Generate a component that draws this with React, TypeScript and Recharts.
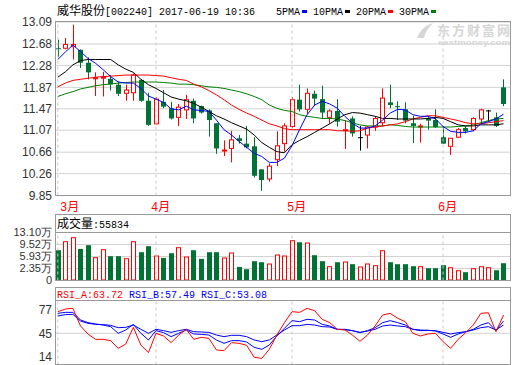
import React from 'react';
import { ComposedChart, Bar, Line, XAxis, YAxis, CartesianGrid, ReferenceLine } from 'recharts';

const monthTicks = [0, 13, 31, 51];
const monthLabels = ['3月', '4月', '5月', '6月'];

const opens = [12.60, 12.60, 12.63, 12.57, 12.33, 12.03, 12.05, 12.03, 11.92, 11.76, 11.77, 12.01, 11.62, 11.19, 11.60, 11.48, 11.31, 11.45, 11.62, 11.52, 11.44, 11.20, 10.69, 10.73, 10.92, 10.82, 10.77, 10.34, 10.16, 10.52, 10.82, 11.14, 11.64, 11.46, 11.75, 11.65, 11.31, 11.43, 11.07, 11.29, 10.94, 10.98, 11.13, 11.21, 11.59, 11.52, 11.46, 11.20, 11.14, 11.29, 11.26, 10.94, 10.77, 10.94, 11.11, 11.08, 11.28, 11.44, 11.31, 11.87];
const highs = [12.76, 12.79, 13.04, 12.58, 12.43, 12.15, 12.16, 12.10, 11.98, 11.92, 12.13, 12.02, 11.77, 11.69, 11.82, 11.60, 11.56, 11.73, 11.66, 11.53, 11.46, 11.20, 10.88, 11.06, 10.98, 11.15, 10.94, 10.34, 10.45, 11.05, 11.20, 11.69, 11.92, 11.85, 11.81, 11.90, 11.46, 11.65, 11.26, 11.33, 11.15, 11.15, 11.33, 11.85, 11.92, 11.61, 11.59, 11.34, 11.19, 11.33, 11.46, 11.15, 10.92, 11.11, 11.15, 11.31, 11.47, 11.45, 11.40, 12.02];
const lows = [12.44, 12.58, 12.39, 12.23, 12.02, 11.71, 11.70, 11.81, 11.71, 11.62, 11.62, 11.60, 11.15, 11.18, 11.48, 11.27, 11.15, 11.28, 11.20, 11.38, 10.95, 10.63, 10.59, 10.47, 10.82, 10.73, 10.19, 9.94, 10.11, 10.40, 10.67, 11.11, 11.42, 11.37, 11.52, 11.28, 11.19, 11.14, 10.72, 10.95, 10.69, 10.73, 11.06, 11.14, 11.48, 11.26, 11.20, 10.83, 10.84, 11.08, 11.11, 10.82, 10.61, 10.92, 11.01, 11.05, 11.20, 11.23, 11.13, 11.52];
const closes = [12.58, 12.67, 12.67, 12.33, 12.15, 12.05, 12.06, 11.93, 11.75, 11.82, 12.10, 11.62, 11.17, 11.65, 11.51, 11.29, 11.50, 11.64, 11.29, 11.40, 11.26, 10.73, 10.70, 10.89, 10.87, 10.75, 10.22, 10.14, 10.40, 10.78, 11.15, 11.64, 11.46, 11.76, 11.66, 11.40, 11.43, 11.23, 11.08, 11.01, 10.94, 11.13, 11.29, 11.67, 11.54, 11.50, 11.25, 11.15, 11.15, 11.25, 11.13, 10.82, 10.92, 11.08, 11.05, 11.29, 11.45, 11.44, 11.15, 11.56];

// volume in 万
const volumes = [7.81, 10.5, 11.7, 8.2, 9.31, 5.73, 8.11, 6.02, 6.02, 5.43, 10.5, 7.22, 9.01, 6.23, 5.52, 6.92, 8.71, 5.93, 7.81, 5.22, 7.22, 7.22, 5.64, 7.13, 2.83, 2.14, 4.53, 4.23, 3.84, 6.53, 6.23, 10.8, 10.2, 10.11, 6.32, 4.53, 3.04, 4.23, 4.44, 3.64, 2.95, 3.84, 3.34, 7.81, 4.23, 3.64, 3.64, 3.04, 3.04, 2.44, 2.44, 3.34, 2.74, 1.84, 1.25, 2.44, 3.04, 2.74, 1.84, 3.93];

const ma5 = [12.39, 12.53, 12.66, 12.54, 12.41, 12.32, 12.20, 12.07, 11.97, 11.95, 11.95, 11.85, 11.71, 11.65, 11.59, 11.47, 11.45, 11.52, 11.45, 11.44, 11.42, 11.26, 11.08, 10.98, 10.86, 10.75, 10.64, 10.58, 10.47, 10.47, 10.55, 10.78, 11.08, 11.36, 11.54, 11.61, 11.56, 11.48, 11.33, 11.20, 11.11, 11.11, 11.15, 11.26, 11.39, 11.46, 11.45, 11.36, 11.33, 11.33, 11.28, 11.14, 11.05, 11.03, 11.03, 11.06, 11.19, 11.23, 11.28, 11.37];
const ma10 = [12.06, 12.16, 12.29, 12.37, 12.39, 12.39, 12.39, 12.39, 12.29, 12.21, 12.15, 12.02, 11.92, 11.85, 11.77, 11.69, 11.65, 11.62, 11.57, 11.50, 11.42, 11.34, 11.28, 11.21, 11.15, 11.09, 10.98, 10.84, 10.75, 10.67, 10.65, 10.80, 10.88, 10.95, 11.03, 11.11, 11.19, 11.28, 11.36, 11.40, 11.39, 11.36, 11.33, 11.29, 11.29, 11.28, 11.28, 11.28, 11.28, 11.29, 11.31, 11.29, 11.23, 11.17, 11.15, 11.15, 11.17, 11.17, 11.17, 11.19];
const ma20 = [11.88, 11.95, 12.00, 12.02, 12.04, 12.06, 12.07, 12.08, 12.09, 12.10, 12.10, 12.10, 12.10, 12.09, 12.08, 12.05, 12.02, 12.00, 11.93, 11.88, 11.81, 11.73, 11.64, 11.54, 11.46, 11.39, 11.33, 11.26, 11.19, 11.15, 11.10, 11.08, 11.08, 11.08, 11.08, 11.08, 11.08, 11.06, 11.06, 11.05, 11.06, 11.11, 11.13, 11.15, 11.17, 11.19, 11.23, 11.28, 11.31, 11.34, 11.34, 11.31, 11.28, 11.25, 11.21, 11.19, 11.19, 11.21, 11.23, 11.25];
const ma30 = [11.70, 11.75, 11.79, 11.84, 11.87, 11.90, 11.92, 11.93, 11.95, 11.96, 11.97, 11.97, 11.97, 11.97, 11.96, 11.95, 11.93, 11.93, 11.92, 11.90, 11.88, 11.87, 11.85, 11.82, 11.79, 11.75, 11.70, 11.64, 11.54, 11.48, 11.44, 11.42, 11.36, 11.33, 11.31, 11.29, 11.29, 11.28, 11.25, 11.21, 11.17, 11.15, 11.15, 11.15, 11.17, 11.16, 11.14, 11.13, 11.13, 11.13, 11.13, 11.13, 11.13, 11.14, 11.15, 11.17, 11.21, 11.25, 11.28, 11.29];

const rsiA = [74.2, 77.8, 78.7, 55.0, 44.0, 36.9, 36.9, 35.1, 24.7, 30.6, 53.1, 29.2, 18.9, 45.0, 41.4, 32.4, 42.7, 50.4, 36.9, 39.6, 38.2, 22.5, 21.6, 32.4, 31.5, 28.8, 12.6, 11.2, 23.4, 42.7, 59.4, 74.2, 73.3, 78.7, 75.5, 63.9, 59.4, 50.4, 49.5, 42.7, 34.2, 42.7, 54.9, 69.7, 71.9, 65.2, 60.7, 45.0, 41.4, 44.1, 45.0, 33.7, 24.7, 36.9, 45.9, 56.2, 71.9, 72.8, 47.2, 69.7];
const rsiB = [71.9, 73.3, 73.3, 63.0, 59.4, 57.6, 56.2, 54.0, 45.0, 49.5, 57.1, 45.0, 36.0, 48.6, 45.9, 40.5, 45.0, 49.5, 44.1, 43.6, 42.7, 36.0, 31.5, 35.1, 35.1, 33.3, 26.1, 23.4, 29.2, 41.4, 51.7, 62.1, 60.7, 63.9, 63.0, 57.1, 54.9, 50.4, 49.9, 48.6, 45.9, 48.6, 52.6, 59.4, 62.1, 59.4, 56.2, 50.4, 48.6, 49.0, 48.1, 44.1, 39.6, 44.1, 47.2, 50.4, 56.2, 59.4, 48.6, 61.6];
const rsiC = [68.4, 70.2, 70.6, 61.6, 58.5, 57.1, 56.7, 55.8, 52.6, 53.1, 56.2, 50.4, 45.0, 50.4, 48.6, 46.3, 48.6, 50.4, 47.2, 46.8, 46.3, 42.7, 40.5, 42.3, 42.3, 40.5, 36.0, 33.7, 36.0, 42.7, 49.5, 55.3, 55.3, 57.1, 56.2, 54.0, 53.5, 50.4, 50.4, 48.6, 46.3, 48.1, 50.4, 54.9, 56.2, 54.9, 54.0, 50.4, 49.5, 49.0, 48.6, 46.3, 44.1, 45.9, 47.2, 49.5, 52.6, 54.0, 49.5, 56.2];

const priceTicks = [9.85, 10.26, 10.66, 11.07, 11.47, 11.87, 12.28, 12.68, 13.09];
const volTicks = [-1.23, 2.35, 5.93, 9.52, 13.10];
const rsiTicks = [14, 45, 77];

const RED = '#ff0000';
const GREEN = '#007234';
const BLUE = '#0000ff';
const MAGREEN = '#008000';
const GRID = '#d2d2d2';
const FRAME = '#999999';
const XDOM: [number, number] = [-0.238, 59.86];

const data = opens.map((o, i) => ({
  i,
  open: o,
  high: highs[i],
  low: lows[i],
  close: closes[i],
  vol: volumes[i],
  ma5: ma5[i],
  ma10: ma10[i],
  ma20: ma20[i],
  ma30: ma30[i],
  rsiA: rsiA[i],
  rsiB: rsiB[i],
  rsiC: rsiC[i],
}));

const Candle = (props: any) => {
  const { x, y, width, height, payload } = props;
  if (!payload) return null;
  const top = Math.min(y, y + height);
  const bot = Math.max(y, y + height);
  const { open, close, high, low } = payload;
  const pix = (v: number) => top + ((high - v) / (high - low)) * (bot - top);
  const c = Math.round(x + width / 2);
  const color = close > open ? RED : close < open ? GREEN : '#000';
  const bt = pix(Math.max(open, close));
  const bb = pix(Math.min(open, close));
  if (close > open) {
    return (
      <g>
        <line x1={c + 0.5} x2={c + 0.5} y1={top} y2={bt} stroke={color} />
        <line x1={c + 0.5} x2={c + 0.5} y1={bb} y2={bot} stroke={color} />
        <rect x={c - 1.5} y={bt} width={4} height={Math.max(bb - bt, 1)} fill="#fff" stroke={color} />
      </g>
    );
  }
  return (
    <g>
      <line x1={c + 0.5} x2={c + 0.5} y1={top} y2={bot} stroke={color} />
      <rect x={c - 2} y={bt} width={5} height={Math.max(bb - bt, 1)} fill={color} />
    </g>
  );
};

const VolBar = (props: any) => {
  const { x, y, width, height, payload } = props;
  if (!payload) return null;
  const top = Math.min(y, y + height);
  const bot = Math.max(y, y + height);
  const c = Math.round(x + width / 2);
  if (payload.close >= payload.open) {
    return <rect x={c - 1.5} y={top + 0.5} width={4} height={bot - top - 1} fill="#fff" stroke={RED} />;
  }
  return <rect x={c - 2} y={top} width={5} height={bot - top} fill={GREEN} />;
};

const MonthTick = (props: any) => {
  const { x, payload } = props;
  const idx = monthTicks.indexOf(payload.value);
  return (
    <text x={Math.max(x - 5, 60)} y={211} fill={RED} fontSize={12} fontFamily="'Liberation Mono', 'Noto Sans CJK SC', monospace">
      {monthLabels[idx]}
    </text>
  );
};

const tickStyle = { fontSize: 12, fill: '#333', fontFamily: "'Liberation Sans', Arial, sans-serif" };
const volTickStyle = { fontSize: 11, fill: '#333', fontFamily: "'Liberation Sans', Arial, sans-serif" };

const monthLines = monthTicks.map((t) => (
  <ReferenceLine key={'m' + t} x={t} stroke="#c8c8c8" strokeDasharray="3 3" />
));

const mono = "'Liberation Mono', 'DejaVu Sans Mono', monospace";
const cjk = "'Noto Sans CJK SC', sans-serif";

export default function App() {
  return (
    <div style={{ position: 'absolute', left: 0, top: 0, width: 520, height: 365, background: '#fff', overflow: 'hidden' }}>
      <div style={{ position: 'absolute', left: 0, top: 0 }}>
        <ComposedChart width={520} height={365} data={data} margin={{ top: 22, right: 10, left: 0, bottom: 155.4 }}>
          <CartesianGrid vertical={false} stroke={GRID} />
          <XAxis type="number" dataKey="i" domain={XDOM} allowDataOverflow ticks={monthTicks} interval={0}
            tick={<MonthTick />} axisLine={false} tickLine={false} height={14} />
          <YAxis domain={[9.85, 13.09]} allowDataOverflow ticks={priceTicks} interval={0} width={56}
            tick={tickStyle} tickFormatter={(v: number) => v.toFixed(2)} axisLine={false} tickLine={false} tickSize={0} tickMargin={4} />
          {monthLines}
          <Bar dataKey={(d: any) => [d.low, d.high]} barSize={5} shape={<Candle />} isAnimationActive={false} />
          <Line dataKey="ma30" stroke={MAGREEN} dot={false} strokeWidth={1} isAnimationActive={false} />
          <Line dataKey="ma20" stroke={RED} dot={false} strokeWidth={1} isAnimationActive={false} />
          <Line dataKey="ma10" stroke="#000" dot={false} strokeWidth={1} isAnimationActive={false} />
          <Line dataKey="ma5" stroke={BLUE} dot={false} strokeWidth={1} isAnimationActive={false} />
        </ComposedChart>
      </div>
      <div style={{ position: 'absolute', left: 0, top: 0 }}>
        <ComposedChart width={520} height={365} data={data} margin={{ top: 232.5, right: 10, left: 0, bottom: 84.5 }}>
          <CartesianGrid vertical={false} stroke={GRID} />
          <XAxis type="number" dataKey="i" domain={XDOM} allowDataOverflow hide />
          <YAxis domain={[volTicks[0], 13.10]} allowDataOverflow ticks={volTicks} interval={0} width={56}
            tick={volTickStyle} tickFormatter={(v: number) => (v < 0 ? '0' : v.toFixed(2) + '万')}
            axisLine={false} tickLine={false} tickSize={0} tickMargin={4} />
          {monthLines}
          <Bar dataKey={(d: any) => [volTicks[0], d.vol]} barSize={5} shape={<VolBar />} isAnimationActive={false} />
        </ComposedChart>
      </div>
      <div style={{ position: 'absolute', left: 0, top: 0 }}>
        <ComposedChart width={520} height={365} data={data} margin={{ top: 300.5, right: 10, left: 0, bottom: 0.5 }}>
          <XAxis type="number" dataKey="i" domain={XDOM} allowDataOverflow hide />
          <YAxis domain={[2.9, 89.3]} allowDataOverflow ticks={rsiTicks} interval={0} width={56}
            tick={tickStyle} axisLine={false} tickLine={false} tickSize={0} tickMargin={4} />
          {monthLines}
          <ReferenceLine y={45} stroke={GRID} />
          <Line dataKey="rsiC" stroke={BLUE} dot={false} strokeWidth={1} isAnimationActive={false} />
          <Line dataKey="rsiB" stroke={BLUE} dot={false} strokeWidth={1} isAnimationActive={false} />
          <Line dataKey="rsiA" stroke={RED} dot={false} strokeWidth={1} isAnimationActive={false} />
        </ComposedChart>
      </div>
      <svg width={520} height={365} style={{ position: 'absolute', left: 0, top: 0, pointerEvents: 'none' }}>
        {/* watermark */}
        <text x={437} y={34.5} fontSize={13} fontWeight="bold" fill="#d6d6d6" fontFamily={cjk} textLength={73}>东方财富网</text>
        <text x={438} y={45} fontSize={8} fontWeight="bold" fill="#d6d6d6" fontFamily="'Liberation Sans', sans-serif" textLength={72} lengthAdjust="spacingAndGlyphs">eastmoney.com</text>
        <path d="M417,38 C420,30 426,25 433,23 C428,28 425,33 424,38 Z" fill="#d6d6d6" />
        {/* frames */}
        <rect x={55.5} y={21.5} width={455} height={174} fill="none" stroke={FRAME} />
        <rect x={55.5} y={214.5} width={455} height={66} fill="none" stroke={FRAME} />
        <line x1={55.5} x2={510.5} y1={232.5} y2={232.5} stroke={FRAME} />
        <rect x={55.5} y={287.5} width={455} height={77} fill="none" stroke={FRAME} />
        <line x1={55.5} x2={510.5} y1={300.5} y2={300.5} stroke={FRAME} />
        {/* title */}
        <text x={57} y={14.5} fontSize={12} fill="#000" fontFamily={cjk}>威华股份</text>
        <text x={105} y={14.5} fontSize={11.5} fill="#000" fontFamily={mono} textLength={150} lengthAdjust="spacingAndGlyphs">[002240] 2017-06-19 10:36</text>
        {/* legend */}
        <text x={276} y={14.5} fontSize={11.5} fill="#000" fontFamily={mono} textLength={24} lengthAdjust="spacingAndGlyphs">5PMA</text>
        <rect x={302} y={10} width={5} height={3} fill={BLUE} />
        <text x={313} y={14.5} fontSize={11.5} fill="#000" fontFamily={mono} textLength={30} lengthAdjust="spacingAndGlyphs">10PMA</text>
        <rect x={345} y={10} width={5} height={3} fill="#000" />
        <text x={356} y={14.5} fontSize={11.5} fill="#000" fontFamily={mono} textLength={30} lengthAdjust="spacingAndGlyphs">20PMA</text>
        <rect x={388} y={10} width={5} height={3} fill={RED} />
        <text x={399} y={14.5} fontSize={11.5} fill="#000" fontFamily={mono} textLength={30} lengthAdjust="spacingAndGlyphs">30PMA</text>
        <rect x={431} y={10} width={5} height={3} fill={MAGREEN} />
        {/* volume header */}
        <text x={57} y={227.5} fontSize={12} fill="#000" fontFamily={cjk}>成交量</text>
        <text x={93} y={227.5} fontSize={11.5} fill="#000" fontFamily={mono} textLength={36} lengthAdjust="spacingAndGlyphs">:55834</text>
        {/* rsi header */}
        <text x={57} y={297.5} fontSize={11.5} fill={RED} fontFamily={mono} textLength={66} lengthAdjust="spacingAndGlyphs">RSI_A:63.72</text>
        <text x={129} y={297.5} fontSize={11.5} fill={BLUE} fontFamily={mono} textLength={66} lengthAdjust="spacingAndGlyphs">RSI_B:57.49</text>
        <text x={201} y={297.5} fontSize={11.5} fill={BLUE} fontFamily={mono} textLength={66} lengthAdjust="spacingAndGlyphs">RSI_C:53.08</text>
      </svg>
    </div>
  );
}
